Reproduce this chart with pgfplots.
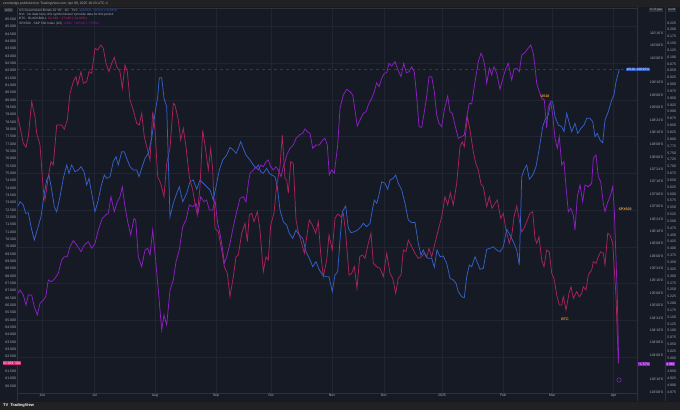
\documentclass[border=0pt]{standalone}
\usepackage{fontspec}
\setmainfont{Liberation Sans}
\usepackage{pgfplots}
\pgfplotsset{compat=1.18}
\definecolor{bg}{RGB}{22,26,37}
\definecolor{barbg}{RGB}{33,33,35}
\definecolor{gridc}{RGB}{33,37,50}
\definecolor{sepc}{RGB}{45,49,62}
\definecolor{txt}{RGB}{170,174,184}
\definecolor{redl}{RGB}{168,36,90}
\definecolor{bluel}{RGB}{52,96,200}
\definecolor{purl}{RGB}{140,32,192}
\definecolor{orangel}{RGB}{232,160,60}
\definecolor{pinkbox}{RGB}{214,40,120}
\tikzset{tlab/.style={font=\fontsize{3.5}{4}\selectfont, text=txt}}
\pgfplotsset{
  base/.style={at={(17bp,17bp)}, anchor=south west, scale only axis,
    width=620bp, height=385bp, clip=true},
}
\begin{document}
\begin{tikzpicture}
\begin{scope}[x=1bp,y=1bp]
\useasboundingbox (0,0) rectangle (680,410);
\fill[bg] (0,0) rectangle (680,410);
\fill[barbg] (0,403) rectangle (680,410);
\fill[barbg] (0,0) rectangle (680,8.5);
\end{scope}

% ---------- main data axis (x: time position, y: chart position) ----------
\begin{axis}[base,
  xmin=17, xmax=637, ymin=8, ymax=393, y dir=reverse,
  axis line style={sepc, line width=0.4bp},
  xtick={42.5,94.5,155,216,271,332,384,442,503,552,613.6},
  xticklabels={Jun,Jul,Aug,Sep,Oct,Nov,Dec,2025,Feb,Mar,Apr},
  xticklabel style={tlab, anchor=north, inner sep=1bp, yshift=0.5bp},
  ytick={26.7,63.37,...,393}, yticklabels={},
  grid=major, major grid style={gridc, line width=0.45bp},
  major tick length=0pt,
]
\addplot[bluel!45!bg, dashed, line width=0.4bp] coordinates {(17,69.3) (637,69.3)};
% red series (left scale)
\addplot[redl, line width=0.75bp] coordinates {
(16.7,111.7)(20,126.7)(23.3,143.3)(26,147.3)(28.3,136.7)(31.7,101.7)(35,116.7)(36.7,133.3)(40,145)(43.3,190)(45,200)(48.3,176.7)(51,161.7)(53.3,165)(56.7,125)(61.7,125)(64.3,129.3)(67.3,120)(70,93.3)(73.3,81.7)(76,76.7)(77.7,85)(81,71.7)(83.3,83.3)(86.7,81.7)(89,71.7)(91.7,73.3)(95,48.3)(97.7,50)(100.7,45)(103.3,48.3)(106,63.3)(109,71.7)(111.7,63.3)(114.3,57.3)(116.7,66.7)(120,71.7)(122.3,88.3)(125,65)(127.3,71.7)(130,100)(133.3,110)(136.7,123.3)(139.3,125)(141.7,113.3)(144.3,136.7)(146.7,146.7)(150,160)(152.7,111.7)(155,130)(157.7,176.7)(160.7,183.3)(164,196.7)(166.7,163.3)(170,148.3)(173.3,103.3)(175,105)(178.3,120)(180.7,140)(183.3,128.3)(186,146.7)(189.3,176.7)(192.7,190)(195,203.3)(197.3,215)(200,186.7)(202.7,130)(205,145)(208.3,170)(210.7,148.3)(212.7,170)(215,228.3)(218.3,231.7)(221.7,250)(224.3,266.7)(227.3,273.3)(230,296.7)(233.3,276.7)(236,256.7)(238.3,255)(241.7,233.3)(245,223.3)(247.3,241.7)(249.3,215)(251.7,213.3)(254,221.7)(257.3,211.7)(260,230)(263.3,271.7)(266,256.7)(268.3,260)(270.7,225)(274,213.3)(276.7,185)(280,166.7)(282.3,135)(285,178.3)(286.7,180)(288.3,193.3)(290.7,161.7)(293.3,163.3)(296,220)(298.3,231.7)(301.7,243.3)(304.3,253.3)(306.7,236.7)(309.3,220)(312.3,225)(315.7,233.3)(318.3,221.7)(320.7,253.3)(323.3,276.7)(326.7,260)(329,235)(332.3,250)(335,218.3)(337.7,214)(341,216.7)(343.3,213.3)(345.7,233.3)(349,275)(351.7,273.3)(354.3,266.7)(357,288.3)(359.7,256.7)(362.3,255)(365,258.3)(368.3,243.3)(371,233.3)(373.3,263.3)(376.7,266.7)(380,268.3)(383.3,276.7)(386.7,253.3)(390,273.3)(392.7,278.3)(395.7,293.3)(398.3,278.3)(401,275)(403.3,250)(406,251.7)(408.3,240)(411.7,246.7)(415,253.3)(418.3,258.3)(421.7,256.7)(424.3,252.7)(426.7,256.7)(429,248.3)(431.7,256.7)(435,243.3)(438.3,230)(441.7,216.7)(445,196.7)(447.7,205)(450.3,192.7)(453.3,205)(456.7,183.3)(460,146.7)(462.3,141.7)(464.3,146.7)(467.3,116.7)(470,130)(473.3,151.7)(475.7,163.3)(478.3,170)(481,184)(483.3,186.7)(486.7,206.7)(489.3,196.7)(492,208.3)(495,203.3)(497.3,200)(500.7,218.3)(503.3,213.3)(506,230)(509.3,243.3)(512,233.3)(514,216.7)(516.7,206)(519.3,220)(521.7,231.7)(524,228.3)(526.7,221.7)(530,213.3)(532.7,211.7)(535,238.3)(536.7,243.3)(539,236.7)(541.7,260)(544,266.7)(546.7,250)(549.3,251.7)(551.7,273.3)(554,278.3)(556.7,295)(559.3,305)(561.7,305)(563.3,296.7)(566,310)(569,293.3)(571,286.7)(573.3,298.3)(576.7,291.7)(579.3,296.7)(581.7,293.3)(583.3,286.7)(586,290)(588.3,275)(591.7,270)(593.3,261.7)(596,263.3)(598.3,256.7)(600.7,251.7)(603.3,253.3)(605,265)(607.7,233.3)(610,235)(612.7,243.3)(616,296.7)(618.3,363.3)
};
% blue series (US 10Y bond)
\addplot[bluel, line width=0.75bp] coordinates {
(16.7,208.3)(20,201.7)(23.3,205)(25.7,213.3)(28.3,212.7)(31,226.7)(34.3,240)(37.7,228.3)(41,216.7)(44.3,193.3)(46.7,180)(49,175)(51.7,190)(54.3,206.7)(56.7,211.7)(60,196.7)(63.3,178.3)(66.7,165)(69,173.3)(71.7,165)(75,171.7)(78.3,170)(81,166.7)(84,171.7)(86.7,185)(89,178.3)(91.7,193.3)(95,211.7)(98.3,200)(101,186.7)(104.3,175)(106.7,178.3)(110,176.7)(113.3,161.7)(116,156.7)(118.3,165)(121.7,151.7)(124.3,151.7)(126.7,158.3)(130,166.7)(133.3,170)(136.7,170)(139,176.7)(141.7,168.3)(145,158.3)(148.3,153.3)(151.7,138.3)(155,113.3)(157.7,96.7)(159.3,77.7)(161.7,77.7)(164,98.3)(166.7,106.7)(170,216.7)(173.3,203.3)(176.7,193.3)(179.3,186.7)(182.7,201.7)(186.7,193.3)(190,181.7)(193.3,180)(196.7,189.3)(200,180)(203.3,183.3)(206.7,186.7)(210,190)(213.3,200)(216,186.7)(219.3,170)(222.7,160)(226.7,155)(230,147.3)(233.3,150)(236,153.3)(238.3,148.3)(240.7,141.7)(243.3,148.3)(246,155)(250,160)(253.3,165)(256,168.3)(258.3,165)(260.7,171.7)(263.3,173.3)(266.7,168.3)(269.3,173.3)(271.7,175)(275,176.7)(277.3,186.7)(280,210)(283.3,221.7)(286.7,225)(289.3,233.3)(292.7,238.3)(296,230)(299.3,235)(302.7,238.3)(306,251.7)(309.3,258.3)(312.7,266.7)(316,261.7)(319.3,270)(322.7,275)(326,276.7)(329,276.7)(332.3,291.7)(335,275)(337.7,271.7)(340,240)(342.3,211.7)(345.7,206)(348.3,228.3)(351,232.7)(354.3,231.7)(357.7,230)(361,226.7)(363.3,223.3)(366.7,226.7)(370,223.3)(372.3,210)(374.3,200)(376.7,203.3)(379,195)(381.7,181.7)(385,183.3)(387.7,189.3)(390,180)(393.3,178.3)(395.7,175)(398.3,183.3)(401.7,190)(405,203.3)(408.3,220)(411.7,222.7)(415,222.3)(418.3,243.3)(421,255)(423.3,250)(426,256.7)(428.3,258.3)(431.7,258.3)(434.3,267.3)(437,250)(440,256.7)(443.3,256)(446.7,263.3)(450,278.3)(453.3,280)(456,283.3)(458.3,291.7)(461.7,296.7)(464.3,297.7)(466.7,276.7)(469.3,265)(471.7,266.7)(475,256.7)(477.7,263.3)(480,269.3)(483.3,268.3)(486.7,249.3)(490,248.3)(493.3,246.7)(496.7,250)(500,251.7)(503.3,246.7)(506.7,229.3)(510,235)(513.3,241.7)(516.7,250)(519.3,265)(521.7,176.7)(524,170)(526.7,165)(529.3,179.3)(532.7,175)(536,166.7)(539.3,148.3)(542.7,126.7)(545,120)(548.3,115)(550.7,101.7)(552.7,101.7)(555,116.7)(558.3,125)(561.7,126.7)(564,131.7)(566.7,113.3)(569.3,123.3)(571.7,131.7)(575,123.3)(577.7,133.3)(581,128.3)(584,125)(586.7,118.3)(590,118.3)(592.7,121.7)(595,136.7)(597.3,133.3)(600,140)(602.7,142.7)(605,120)(608.3,111.7)(611.7,100)(614,95)(616,81.7)(619.3,69.3)
};
% purple series (SPX500)
\addplot[purl, line width=0.75bp] coordinates {
(16.7,295)(20,290)(23.3,295)(26,305)(28.3,295)(31.7,295)(34.3,306.7)(37.3,315)(40,303.3)(43.3,300)(45.7,296.7)(48.3,280)(51.7,281.7)(55,278.3)(58.3,273.3)(61.7,260)(64.3,256.7)(67.3,256.7)(70,246.7)(73.3,240.7)(76.7,245)(81,251.7)(84.3,245)(88.3,241.7)(91.7,248.3)(95,243.3)(98.3,230)(102.3,218.3)(105.7,215)(108.3,213.3)(111,196.7)(114.3,211.7)(116.7,203.3)(120,196.7)(122.3,186.7)(125,206.7)(127.7,221.7)(130.7,235)(134,218.3)(135.7,220)(138.3,256.7)(141.7,266.7)(145,250)(147.7,248.3)(150,255)(152.7,230)(155,253.3)(158.3,290)(161.7,330)(164,315)(166.7,325)(170,290)(173.3,280)(176,261.7)(179.3,250)(182.7,226.7)(186,220)(189.3,205)(192.7,206.7)(196,203.3)(198.3,211.7)(200.7,196.7)(204,201.7)(206.7,200)(209.3,210)(212.7,210)(215,200)(217.7,223.3)(220,233.3)(222.7,250)(224.3,263.3)(226.7,256.7)(230,243.3)(233.3,226.7)(236.7,211.7)(240,198.3)(243.3,196.7)(246,201.7)(248.3,183.3)(250,173.3)(253.3,170)(256,166.7)(258.3,170)(261,165)(263.3,166.7)(266,161.7)(268.3,160)(270.7,166.7)(273.3,170)(276,166.7)(278.3,170)(281,176.7)(283.3,166.7)(285,161.7)(286.7,155)(290,148.3)(293.3,145)(296,138.3)(299.3,135)(302.7,133.3)(305,129)(307.3,131.7)(310,133.3)(312.7,148.3)(316,145)(319.3,145)(322.7,140)(325,138.3)(327.3,145)(329.3,175)(331.7,170)(334.3,173.3)(337.7,145)(340,108.3)(343.3,95)(346.7,89.3)(350,91.7)(352.7,95)(355,110)(357.3,126)(360,120)(363.3,113.3)(366,111.7)(368.3,105)(371.7,98.3)(374.3,91.7)(376.7,82.7)(379,86.7)(381.7,78.3)(384.3,73.3)(386.7,72.7)(389,63.3)(391.7,66)(395,61.7)(397.7,69.3)(401,76.7)(403.7,63.3)(406.3,72.7)(409,71.7)(411.7,66.7)(414.3,71.7)(416.7,96.7)(419,126.7)(421.7,127.3)(424.3,111.7)(426.7,96.7)(429,76.7)(431.7,76.7)(434.3,91.7)(436.7,115)(439,123.3)(441.7,126.7)(444.3,110)(447.7,96)(450,111.7)(452.3,113.3)(455,125)(458.3,138.3)(461.7,136.7)(464.3,135)(467.3,113.3)(469.3,103.3)(471.7,104)(475,81.7)(478.3,61.7)(481,53.3)(482.7,56.7)(485,66.7)(486.7,83.3)(489.3,68.3)(491.7,75)(494,66.7)(496.7,73.3)(500,89.3)(503.3,76.7)(506,68.3)(508.3,63.3)(511.7,80)(514,69.3)(516.7,68.3)(519.3,71.7)(521.7,55)(524.3,53.3)(527.3,49.3)(530.7,45)(533.3,53.3)(535,66.7)(536.7,83.3)(539.3,91.7)(541.7,98.3)(544.3,100)(546.7,128.3)(548.3,106.7)(550.7,101.7)(552.7,115)(555,138.3)(557.3,148.3)(559.3,136.7)(561.7,165)(564,161.7)(566,186.7)(568.3,211.7)(570.7,208.3)(573.3,215)(575,230)(577.3,196.7)(580,185)(582.7,201.7)(585,185)(588.3,186.7)(591.7,183.3)(593.3,158.3)(596,155)(598.3,176.7)(600.7,181.7)(603.3,203.3)(605,211.7)(607.3,203.3)(610,196.7)(612.7,186.7)(614.3,210)(617.3,296.7)(618.7,363.3)
};
\end{axis}

% ---------- left price scale ----------
\begin{axis}[base, xmin=0, xmax=1, ymin=60.03, ymax=86.27,
  hide x axis, axis y line*=left, axis line style={draw=none},
  major tick length=0pt,
  ytick={60,60.5,61,61.5,62.5,63,...,85.6},
  yticklabel style={tlab, anchor=east, inner sep=0.8bp},
  /pgf/number format/.cd, fixed, fixed zerofill, precision=3, assume math mode=true,
]
\addplot[draw=none] coordinates {(0,70)};
\end{axis}

% ---------- inner right scale (bond price) ----------
\begin{axis}[base, xmin=0, xmax=1, ymin=8, ymax=393, y dir=reverse,
  hide x axis, axis y line*=right, axis line style={draw=none},
  major tick length=0pt,
  ytick={33.3,45.67,58.04,82.78,95.15,...,355,379.72,392.09},
  yticklabels={110'16'0,110'08'0,110'00'0,109'16'0,109'08'0,109'00'0,108'24'0,108'16'0,108'08'0,108'00'0,107'24'0,107'16'0,107'08'0,107'00'0,106'24'0,106'16'0,106'08'0,106'00'0,105'24'0,105'16'0,105'08'0,105'00'0,104'24'0,104'16'0,104'08'0,104'00'0,103'16'0,103'08'0},
  yticklabel style={tlab, anchor=east, inner sep=0.8bp, xshift=27bp},
]
\addplot[draw=none] coordinates {(0,100)};
\end{axis}

% ---------- outer right scale (SPX500) ----------
\begin{axis}[base, xmin=0, xmax=1, ymin=4872.4, ymax=6279.2,
  hide x axis, axis y line*=right, axis line style={draw=none},
  major tick length=0pt,
  ytick={4875,4900,4925,4950,5000,5025,...,6230},
  yticklabel style={tlab, anchor=east, inner sep=0.8bp, xshift=40bp},
  /pgf/number format/.cd, fixed, precision=0, 1000 sep={.}, assume math mode=true,
]
\addplot[draw=none] coordinates {(0,5500)};
\end{axis}

\begin{scope}[x=1bp,y=1bp]
% separators of the scales
\draw[sepc, line width=0.4bp] (637,9) -- (637,403);
\draw[sepc, line width=0.4bp] (665,9) -- (665,403);
\draw[sepc, line width=0.4bp] (17,9) -- (17,403);

% price tags on the scales
\node[fill=bluel, text=white, font=\fontsize{3.3}{4}\selectfont, inner sep=0.6bp, anchor=west] at (626,340.7) {US10\, 109'26'0};
\node[fill=purl, text=white, font=\fontsize{3.3}{4}\selectfont, inner sep=0.6bp, anchor=west] at (637.5,46) {−1.57\%};
\node[fill=purl, text=white, font=\fontsize{3.3}{4}\selectfont, inner sep=0.6bp, anchor=west] at (665.5,46) {4.982};
\node[fill=pinkbox, text=white, font=\fontsize{3.3}{4}\selectfont, inner sep=0.6bp, anchor=west] at (2.5,47) {62.039\; 30s};
\node[fill=sepc, text=txt, font=\fontsize{3.3}{4}\selectfont, inner sep=0.7bp] at (8.5,400) {USD};
\node[fill=sepc, text=txt, font=\fontsize{3.1}{4}\selectfont, inner sep=0.6bp] at (656,400) {\% of gap};
\node[fill=sepc, text=txt, font=\fontsize{3.1}{4}\selectfont, inner sep=0.6bp] at (672,400) {point};

% labels on the chart
\node[text=orangel, font=\fontsize{3.6}{4}\selectfont\bfseries] at (545,314) {US10};
\node[text=orangel, font=\fontsize{3.6}{4}\selectfont\bfseries, anchor=west] at (615,201) {SPX500};
\node[text=orangel, font=\fontsize{3.6}{4}\selectfont\bfseries] at (565,90.7) {BTC};
\draw[purl, line width=0.5bp] (619,30) circle (2.2);

% legend rows
\begin{scope}[every node/.style={anchor=west, inner sep=0pt, font=\fontsize{3.2}{3.6}\selectfont}]
\node[text=txt] at (19,399.5) {US Government Bonds 10 YR · 1D · TVC\enspace\textcolor{bluel}{109'26'0\enspace +0'21'0 (+0.61\%)}};
\node[text=txt] at (19,395.2) {NVI · No data here, this symbol doesn't provide data for this period};
\node[text=txt] at (19,390.9) {BTC · BLACKBULL\enspace\textcolor{pinkbox}{62.039\enspace −17.116 (−21.62\%)}};
\node[text=txt] at (19,386.6) {SPX500 · S\&P 500 Index (US)\enspace\textcolor{purl}{4.982\enspace −405.95 (−7.53\%)}};
\end{scope}

% top bar and footer
\node[anchor=west, inner sep=0pt, text=txt, font=\fontsize{3.4}{4}\selectfont] at (3,406.6) {zerohedge published on TradingView.com, Apr 08, 2025 18:23 UTC-4};
\node[anchor=west, inner sep=0pt, text=white, font=\fontsize{4}{5}\selectfont\bfseries] at (3,4.3) {TV\; TradingView};
\end{scope}
\end{tikzpicture}
\end{document}
